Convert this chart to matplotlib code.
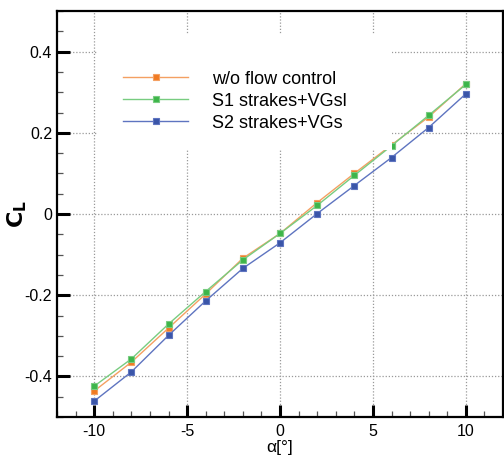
import matplotlib
matplotlib.use("Agg")
import matplotlib.pyplot as plt
from matplotlib.patches import Rectangle
from matplotlib.ticker import MultipleLocator, FixedLocator, FuncFormatter

plt.rcParams['font.family'] = ['Liberation Sans', 'DejaVu Sans']
plt.rcParams['axes.unicode_minus'] = False

alpha = [-10, -8, -6, -4, -2, 0, 2, 4, 6, 8, 10]
cl_base = [-0.436, -0.365, -0.281, -0.197, -0.109, -0.048, 0.028, 0.100, 0.170, 0.239, 0.321]
cl_s1 = [-0.424, -0.357, -0.271, -0.191, -0.113, -0.048, 0.021, 0.095, 0.168, 0.243, 0.319]
cl_s2 = [-0.461, -0.389, -0.299, -0.214, -0.134, -0.071, 0.001, 0.070, 0.139, 0.213, 0.296]
labels = ["w/o flow control", "S1 strakes+VGsl", "S2 strakes+VGs"]
xticks = [-10, -5, 0, 5, 10]
yticks = [-0.4, -0.2, 0.0, 0.2, 0.4]

series = [cl_base, cl_s1, cl_s2]
line_colors = ["#F4A062", "#78CC80", "#5E74C0"]
mark_colors = ["#F07A22", "#3DB54A", "#3A55A8"]

fig = plt.figure(figsize=(5.04, 4.57), dpi=100)
ax = fig.add_axes([57/504, 1-417/457, 446/504, 406/457])

handles = []
for ys, lc, mc, lab in zip(series, line_colors, mark_colors, labels):
    h, = ax.plot(alpha, ys, color=lc, lw=1.0, marker='s', markersize=5,
                 markerfacecolor=mc, markeredgecolor=lc, markeredgewidth=0.8,
                 label=lab, zorder=3)
    handles.append(h)

ax.set_xlim(-12, 12)
ax.set_ylim(-0.5, 0.5)
ax.xaxis.set_major_locator(FixedLocator(xticks))
ax.yaxis.set_major_locator(FixedLocator(yticks))
ax.xaxis.set_minor_locator(MultipleLocator(1))
ax.yaxis.set_minor_locator(MultipleLocator(0.05))
ax.yaxis.set_major_formatter(FuncFormatter(lambda v, p: "0" if abs(v) < 1e-9 else f"{v:.1f}"))
ax.xaxis.set_major_formatter(FuncFormatter(lambda v, p: f"{v:.0f}"))

ax.tick_params(which='major', direction='in', length=9, width=2.2, labelsize=11.5,
               top=False, right=False, color='black')
ax.tick_params(axis='y', which='major', pad=3.5)
ax.tick_params(axis='x', which='major', pad=5)
ax.tick_params(which='minor', direction='in', length=4.5, width=0.9,
               top=False, right=False, color='#555555')
for s in ax.spines.values():
    s.set_linewidth(1.6)

ax.grid(True, which='major', linestyle=(0, (1, 1.5)), color='#999999', linewidth=0.9, zorder=0)
ax.set_axisbelow(True)

ax.set_xlabel("α[°]", fontsize=12.5)
ax.xaxis.set_label_coords(0.5, -0.0575)
ax.set_ylabel(r"$\mathbf{C_L}$", fontsize=16)
ax.yaxis.set_label_coords(-0.063, 0.5)

# legend background
ax.add_patch(Rectangle((0.092, 0.658), 0.659, 0.283, transform=ax.transAxes,
                       facecolor='white', edgecolor='none', zorder=4))
leg = ax.legend(handles=handles, loc='upper left', bbox_to_anchor=(0.148, 0.853),
                frameon=False, fontsize=13, handlelength=3.6, handletextpad=1.33,
                labelspacing=0.28, borderpad=0, borderaxespad=0)
leg.set_zorder(6)

fig.savefig("out.png", dpi=100)
